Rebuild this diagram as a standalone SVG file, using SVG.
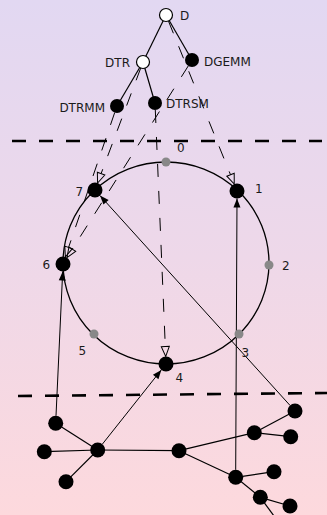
<svg xmlns="http://www.w3.org/2000/svg" width="327" height="515" viewBox="0 0 327 515">
<defs>
<linearGradient id="bg" x1="0" y1="0" x2="0" y2="1">
<stop offset="0" stop-color="#e2d8f2"/>
<stop offset="0.5" stop-color="#eed8e9"/>
<stop offset="1" stop-color="#fdd9dd"/>
</linearGradient>
<marker id="open" markerUnits="userSpaceOnUse" markerWidth="12" markerHeight="10" refX="0.5" refY="5" orient="auto" overflow="visible">
<path d="M0.5,1 L10.5,5 L0.5,9 Z" fill="none" stroke="#000" stroke-width="1"/>
</marker>
<marker id="fill" markerUnits="userSpaceOnUse" markerWidth="10" markerHeight="8" refX="9" refY="3.5" orient="auto" overflow="visible">
<path d="M0,0 L9,3.5 L0,7 Z" fill="#000"/>
</marker>
</defs>
<style>
text{font-family:"DejaVu Sans","Liberation Sans",sans-serif;font-size:12px;fill:#1a1a1a}
.e{stroke:#000;stroke-width:1.2;fill:none}
.d{stroke:#000;stroke-width:1;fill:none;stroke-dasharray:13 14;marker-end:url(#open)}
.a{stroke:#000;stroke-width:1;fill:none;marker-end:url(#fill)}
.sep{stroke:#000;stroke-width:2.6;stroke-dasharray:14 13;fill:none}
.o{fill:#fff;stroke:#000;stroke-width:1.2}
.b{fill:#000}
.g{fill:#888}
.ring{fill:none;stroke:#000;stroke-width:1.3}
</style>
<rect x="0" y="0" width="327" height="515" fill="url(#bg)"/>
<g id="separators">
<line class="sep" x1="12" y1="141" x2="322" y2="141"/>
<line class="sep" x1="18" y1="396" x2="327" y2="393"/>
</g>
<ellipse id="ring" class="ring" cx="166" cy="263" rx="103" ry="101"/>
<g id="connectors">
<line class="e" x1="166" y1="15" x2="143" y2="62"/>
<line class="e" x1="166" y1="15" x2="192" y2="60"/>
<line class="e" x1="143" y1="62" x2="117" y2="106"/>
<line class="e" x1="143" y1="62" x2="155" y2="103"/>
<line class="d" x1="168.5" y1="21.2" x2="230.5" y2="174.7"/>
<line class="d" x1="140.7" y1="68.1" x2="101.1" y2="173.6"/>
<line class="d" x1="114.7" y1="112.6" x2="68.6" y2="247.4"/>
<line class="d" x1="188.3" y1="65.9" x2="72.3" y2="249.2"/>
<line class="d" x1="155.3" y1="110" x2="165.3" y2="346.5"/>
<line class="a" x1="56" y1="415.8" x2="62.7" y2="271.5"/>
<line class="a" x1="102.4" y1="444.1" x2="161.3" y2="369.9"/>
<line class="a" x1="290" y1="405.4" x2="100" y2="195.6"/>
<line class="a" x1="235.7" y1="469.8" x2="237" y2="198.5"/>
<line class="e" x1="55.7" y1="423.3" x2="97.7" y2="450"/>
<line class="e" x1="44.3" y1="451.7" x2="97.7" y2="450"/>
<line class="e" x1="66" y1="481.7" x2="97.7" y2="450"/>
<line class="e" x1="97.7" y1="450" x2="179" y2="450.7"/>
<line class="e" x1="179" y1="450.7" x2="254.3" y2="432.7"/>
<line class="e" x1="254.3" y1="432.7" x2="295" y2="411"/>
<line class="e" x1="254.3" y1="432.7" x2="290.7" y2="436.7"/>
<line class="e" x1="179" y1="450.7" x2="235.7" y2="477.3"/>
<line class="e" x1="235.7" y1="477.3" x2="274" y2="471.7"/>
<line class="e" x1="235.7" y1="477.3" x2="260.3" y2="497.3"/>
<line class="e" x1="260.3" y1="497.3" x2="290" y2="506"/>
<line class="e" x1="260.3" y1="497.3" x2="274" y2="516"/>
</g>
<g id="D"><circle class="o" cx="166" cy="15" r="6.5"/><text x="180" y="20">D</text></g>
<g id="DTR"><circle class="o" cx="143" cy="62" r="6.5"/><text x="130" y="66.5" text-anchor="end">DTR</text></g>
<g id="DGEMM"><circle class="b" cx="192" cy="60" r="7"/><text x="204" y="65.5">DGEMM</text></g>
<g id="DTRMM"><circle class="b" cx="117" cy="106" r="7"/><text x="105" y="111.5" text-anchor="end">DTRMM</text></g>
<g id="DTRSM"><circle class="b" cx="155" cy="103" r="7"/><text x="166" y="108">DTRSM</text></g>
<g id="r0"><circle class="g" cx="166" cy="162" r="4.5"/><text x="177" y="152">0</text></g>
<g id="r1"><circle class="b" cx="237" cy="191" r="7.5"/><text x="255" y="192.5">1</text></g>
<g id="r2"><circle class="g" cx="269" cy="265" r="4.5"/><text x="282" y="269.5">2</text></g>
<g id="r3"><circle class="g" cx="239" cy="334" r="4.5"/><text x="241.5" y="357">3</text></g>
<g id="r4"><circle class="b" cx="166" cy="364" r="7.5"/><text x="175.5" y="382">4</text></g>
<g id="r5"><circle class="g" cx="94" cy="334" r="4.5"/><text x="78.5" y="355">5</text></g>
<g id="r6"><circle class="b" cx="63" cy="264" r="7.5"/><text x="42.5" y="269">6</text></g>
<g id="r7"><circle class="b" cx="95" cy="190" r="7.5"/><text x="75.5" y="196">7</text></g>
<g id="nA"><circle class="b" cx="55.7" cy="423.3" r="7.5"/></g>
<g id="nB"><circle class="b" cx="44.3" cy="451.7" r="7.5"/></g>
<g id="nC"><circle class="b" cx="97.7" cy="450" r="7.5"/></g>
<g id="nE"><circle class="b" cx="66" cy="481.7" r="7.5"/></g>
<g id="nF"><circle class="b" cx="179" cy="450.7" r="7.5"/></g>
<g id="nG"><circle class="b" cx="254.3" cy="432.7" r="7.5"/></g>
<g id="nH"><circle class="b" cx="295" cy="411" r="7.5"/></g>
<g id="nI"><circle class="b" cx="290.7" cy="436.7" r="7.5"/></g>
<g id="nJ"><circle class="b" cx="235.7" cy="477.3" r="7.5"/></g>
<g id="nK"><circle class="b" cx="274" cy="471.7" r="7.5"/></g>
<g id="nL"><circle class="b" cx="260.3" cy="497.3" r="7.5"/></g>
<g id="nM"><circle class="b" cx="290" cy="506" r="7.5"/></g>
</svg>
